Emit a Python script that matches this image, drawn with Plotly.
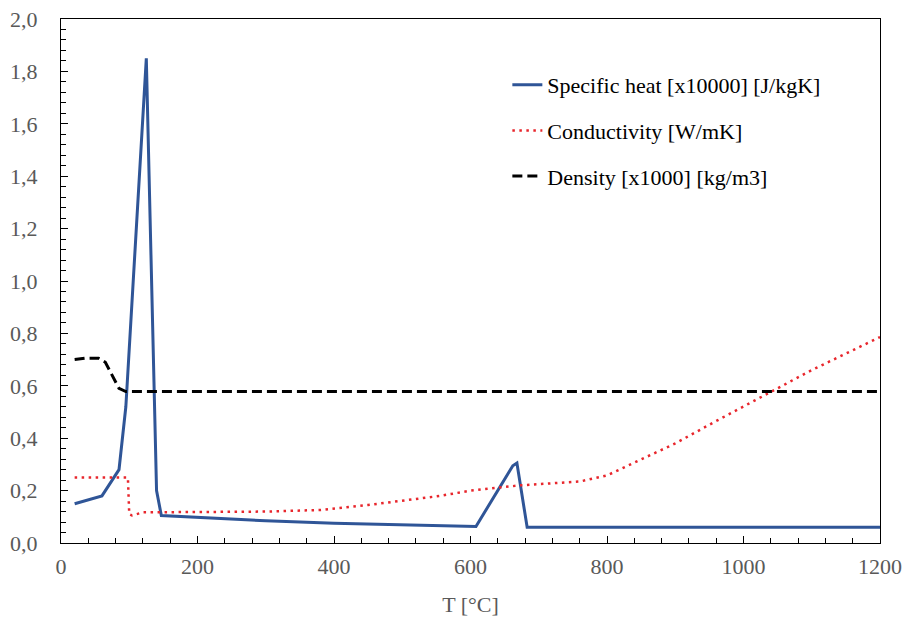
import plotly.graph_objects as go

# Specific heat [x10000] [J/kgK]
cp_T = [20, 60, 85, 95, 125, 140, 147, 300, 400, 608, 662, 668, 683, 1200]
cp_v = [0.15, 0.18, 0.28, 0.52, 1.85, 0.20, 0.105, 0.085, 0.075, 0.063, 0.295, 0.305, 0.06, 0.06]

# Conductivity [W/mK]
k_T = [20, 98, 100, 104, 120, 200, 300, 380, 450, 556, 600, 673, 720, 761, 800, 839, 900, 956, 1042, 1100, 1200]
k_v = [0.25, 0.25, 0.11, 0.105, 0.117, 0.118, 0.12, 0.126, 0.145, 0.18, 0.20, 0.22, 0.228, 0.235, 0.258, 0.305, 0.38, 0.46, 0.58, 0.66, 0.786]

# Density [x1000] [kg/m3]
rho_T = [20, 35, 55, 65, 75, 85, 95, 1200]
rho_v = [0.70, 0.705, 0.705, 0.69, 0.64, 0.59, 0.578, 0.578]

names = ["Specific heat [x10000] [J/kgK]", "Conductivity [W/mK]", "Density [x1000] [kg/m3]"]
x_ticks = [0, 200, 400, 600, 800, 1000, 1200]
y_ticks = [0.0, 0.2, 0.4, 0.6, 0.8, 1.0, 1.2, 1.4, 1.6, 1.8, 2.0]

SERIF = "Liberation Serif, Times New Roman, serif"

fig = go.Figure()
fig.add_trace(go.Scatter(x=cp_T, y=cp_v, mode="lines", name=names[0], legendgroup="a",
                         line=dict(color="#2F5597", width=3)))
fig.add_trace(go.Scatter(x=k_T, y=k_v, mode="lines", name=names[1], legendgroup="b",
                         line=dict(color="#E8262C", width=2.5, dash="2.5px,4.5px")))
fig.add_trace(go.Scatter(x=rho_T, y=rho_v, mode="lines", name=names[2], legendgroup="c",
                         line=dict(color="#000000", width=3, dash="10px,5px")))

fig.update_layout(
    width=904, height=617,
    margin=dict(l=61, r=24, t=19, b=74, autoexpand=False),
    paper_bgcolor="white", plot_bgcolor="white",
    font=dict(family=SERIF, size=22, color="#595959"),
    legend=dict(x=0.545, y=0.914, xanchor="left", yanchor="top",
                font=dict(family=SERIF, size=22, color="#000000"),
                tracegroupgap=14, itemwidth=30, bgcolor="rgba(0,0,0,0)"),
    xaxis=dict(range=[0, 1200], tickvals=x_ticks, ticktext=[str(v) for v in x_ticks],
               automargin=False,
               showgrid=False, zeroline=False, showline=True, linecolor="black", linewidth=1.2,
               mirror=True, ticks="inside", ticklen=7, tickcolor="black", ticklabelstandoff=3,
               minor=dict(dtick=40, ticks="inside", ticklen=5, tickcolor="black"),
               title=dict(text="T [°C]", font=dict(family=SERIF, size=22, color="#595959"), standoff=19)),
    yaxis=dict(range=[0, 2.0], tickvals=y_ticks, ticktext=[f"{v:.1f}".replace(".", ",") for v in y_ticks],
               automargin=False,
               showgrid=False, zeroline=False, showline=True, linecolor="black", linewidth=1.2,
               mirror=True, ticks="inside", ticklen=7, tickcolor="black", ticklabelstandoff=18,
               minor=dict(dtick=0.04, ticks="inside", ticklen=5, tickcolor="black")),
)

fig.write_html("out.html")
